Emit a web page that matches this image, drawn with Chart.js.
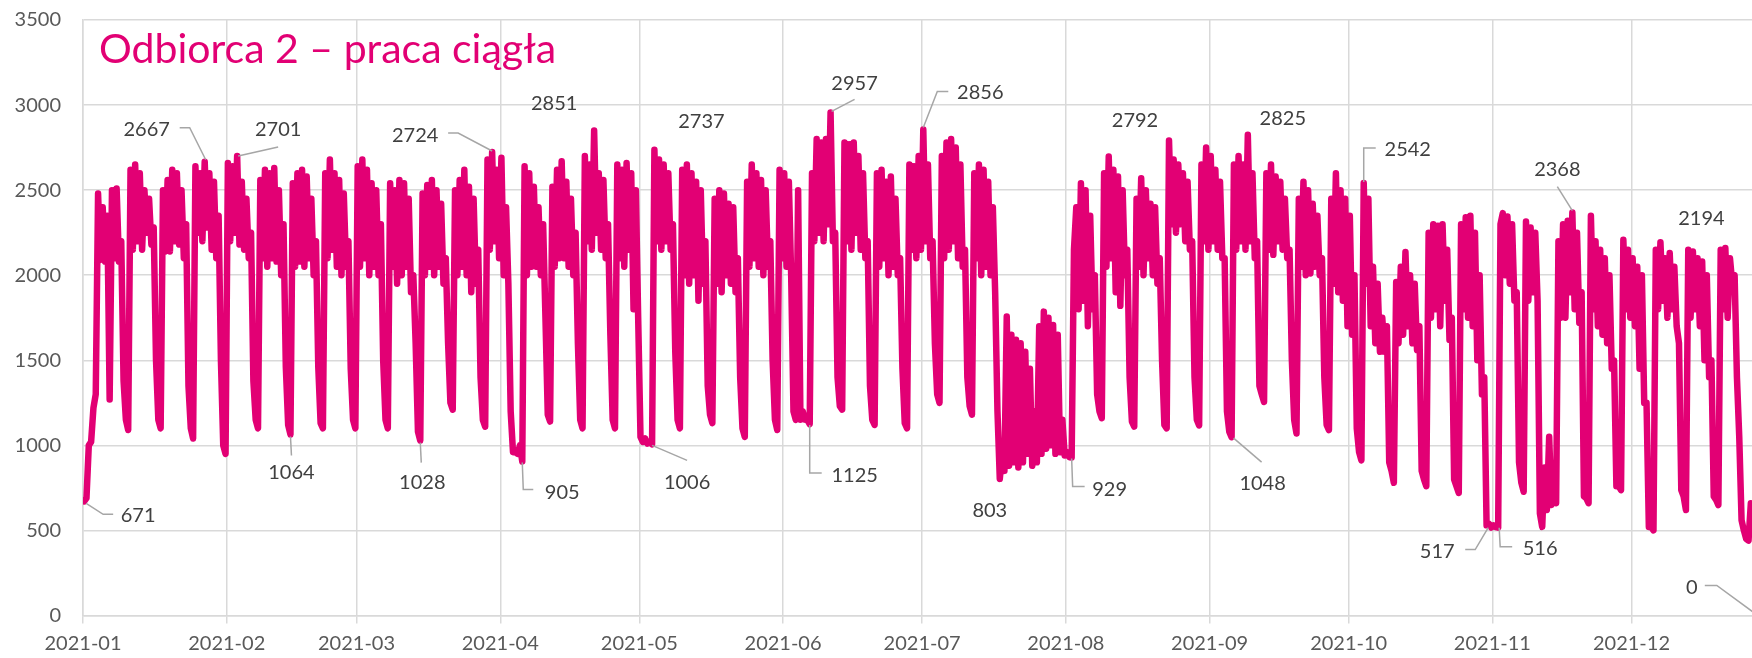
<!DOCTYPE html>
<html lang="pl">
<head>
<meta charset="UTF-8">
<title>Odbiorca 2 – praca ciągła</title>
<script src="https://cdn.jsdelivr.net/npm/chart.js"></script>
<style>
  html, body { margin: 0; padding: 0; background: #fff; }
  canvas { display: block; }
</style>
</head>
<body>
<canvas id="loadChart" width="1752" height="658"></canvas>
<script>
  const chartTitle = 'Odbiorca 2 – praca ciągła';

  // x axis: day of year 2021 (0 = 1 Jan), ticks on first day of each month
  const monthStartDays = [0, 31, 59, 90, 120, 151, 181, 212, 243, 273, 304, 334];
  const monthLabels = ['2021-01', '2021-02', '2021-03', '2021-04', '2021-05', '2021-06',
    '2021-07', '2021-08', '2021-09', '2021-10', '2021-11', '2021-12'];
  const valueTicks = [0, 500, 1000, 1500, 2000, 2500, 3000, 3500];

  // two readings per day (morning / evening), one row per week Mon..Sun
  const amWeeks = [
    [671, 1000, 1220],                               // 1-3 Jan
    [2480, 2400, 2350, 2500, 2510, 2200, 1150],
    [2620, 2650, 2600, 2500, 2450, 2280, 1150],
    [2500, 2560, 2620, 2600, 2500, 2300, 1100],
    [2640, 2600, 2667, 2600, 2550, 2350, 1000],
    [2660, 2640, 2701, 2550, 2450, 2250, 1150],      // Feb
    [2560, 2620, 2600, 2630, 2500, 2300, 1120],
    [2540, 2600, 2620, 2580, 2450, 2200, 1130],
    [2600, 2680, 2600, 2560, 2480, 2200, 1150],
    [2640, 2680, 2620, 2540, 2500, 2300, 1150],      // Mar
    [2540, 2500, 2560, 2540, 2450, 2000, 1080],
    [2480, 2530, 2560, 2500, 2420, 2100, 1250],
    [2500, 2560, 2620, 2520, 2450, 2150, 1150],
    [2680, 2724, 2620, 2690, 2400, 1200, 960],
    [1000, 2640, 2600, 2520, 2400, 2300, 1180],      // Apr
    [2520, 2620, 2670, 2550, 2450, 2250, 1150],
    [2700, 2650, 2851, 2600, 2560, 2300, 1150],
    [2650, 2620, 2660, 2600, 2500, 1050, 1040],
    [1020, 2737, 2680, 2650, 2600, 2300, 1150],      // May
    [2620, 2650, 2600, 2550, 2500, 2200, 1180],
    [2450, 2500, 2480, 2420, 2400, 2100, 1100],
    [2550, 2650, 2600, 2560, 2500, 2200, 1150],
    [2620, 2600, 2550, 1200, 2500, 1200, 1150],
    [2600, 2800, 2780, 2800, 2957, 2250, 1230],      // Jun
    [2780, 2770, 2780, 2700, 2600, 2200, 1150],
    [2600, 2620, 2550, 2580, 2450, 2100, 1130],
    [2650, 2640, 2700, 2856, 2650, 2200, 1300],
    [2700, 2780, 2800, 2750, 2650, 2150, 1230],      // Jul
    [2600, 2650, 2620, 2550, 2400, 1200, 950],
    [1757, 1650, 1620, 1600, 1550, 1450, 1200],
    [1700, 1786, 1750, 1708, 1650, 1150, 960],
    [929, 2400, 2540, 2500, 2350, 2000, 1200],       // Aug
    [2600, 2698, 2620, 2580, 2500, 2150, 1140],
    [2450, 2570, 2500, 2420, 2400, 2100, 1120],
    [2792, 2680, 2650, 2600, 2550, 2200, 1150],
    [2650, 2750, 2700, 2620, 2550, 2100, 1080],
    [2650, 2700, 2650, 2825, 2600, 2200, 1300],      // Sep
    [2600, 2650, 2580, 2550, 2450, 2150, 1150],
    [2450, 2550, 2500, 2420, 2350, 2100, 1120],
    [2450, 2600, 2500, 2450, 2350, 2000, 960],
    [2542, 2450, 2050, 1950, 1750, 1700, 850],       // Oct
    [1960, 2050, 2137, 2000, 1950, 1700, 800],
    [2250, 2300, 2290, 2300, 2150, 1750, 760],
    [2300, 2340, 2350, 2250, 2000, 1400, 540],
    [530, 516, 2365, 2345, 2300, 1900, 780],         // Nov
    [2316, 2280, 2250, 600, 870, 1050, 700],
    [2200, 2300, 2320, 2368, 2250, 1900, 690],
    [2350, 2200, 2150, 2100, 2000, 1500, 760],
    [2208, 2150, 2100, 2050, 2000, 1250, 520],
    [2150, 2194, 2100, 2130, 2050, 1600, 700],       // Dec
    [2149, 2140, 2100, 2080, 2000, 1500, 680],
    [2150, 2160, 2100, 2000, 1050, 500, 440],
    [650, 0, 0, 0, 0]
  ];
  const pmWeeks = [
    [690, 1020, 1300],
    [2090, 2080, 1270, 2100, 2080, 1380, 1090],
    [2150, 2200, 2150, 2250, 2180, 1500, 1100],
    [2140, 2140, 2200, 2180, 2100, 1350, 1040],
    [2250, 2200, 2280, 2150, 2100, 1500, 950],
    [2200, 2250, 2180, 2150, 2100, 1380, 1100],
    [2100, 2050, 2100, 2080, 2000, 1460, 1064],
    [2050, 2080, 2050, 2100, 2000, 1460, 1100],
    [2100, 2150, 2050, 2000, 2050, 1450, 1100],
    [2050, 2100, 2000, 2050, 2000, 1500, 1100],
    [2050, 1950, 2000, 2050, 1900, 1600, 1028],
    [2000, 2050, 2000, 2050, 1950, 1600, 1210],
    [2000, 2050, 2000, 1900, 1950, 1400, 1110],
    [2150, 2200, 2100, 2000, 1950, 960, 950],
    [905, 2000, 2050, 2050, 2000, 1750, 1140],
    [2050, 2100, 2100, 2050, 2000, 1600, 1100],
    [2200, 2150, 2250, 2150, 2100, 1650, 1100],
    [2100, 2050, 2150, 1800, 1750, 1020, 1010],
    [1006, 2200, 2150, 2200, 2150, 1550, 1100],
    [2000, 1950, 2000, 1850, 1950, 1350, 1130],
    [1950, 1900, 2000, 1950, 1900, 1400, 1050],
    [2050, 2100, 2050, 2000, 2050, 1500, 1090],
    [2100, 2050, 2000, 1150, 1150, 1150, 1125],
    [2200, 2250, 2200, 2300, 2200, 1400, 1210],
    [2200, 2150, 2250, 2150, 2100, 1350, 1120],
    [2050, 2100, 2000, 2050, 2000, 1450, 1100],
    [2150, 2100, 2150, 2200, 2100, 1600, 1250],
    [2100, 2150, 2200, 2100, 2050, 1400, 1180],
    [2100, 2000, 2050, 2000, 1900, 803, 850],
    [880, 900, 870, 900, 950, 880, 900],
    [950, 980, 1000, 950, 960, 940, 930],
    [2150, 1800, 1850, 1700, 1800, 1300, 1160],
    [2050, 2100, 1900, 1820, 2000, 1400, 1110],
    [2050, 2000, 2100, 2000, 1950, 1500, 1100],
    [2300, 2250, 2300, 2200, 2150, 1400, 1117],
    [2200, 2150, 2200, 2150, 2100, 1200, 1048],
    [2150, 2200, 2150, 2200, 2100, 1350, 1255],
    [2150, 2120, 2200, 2150, 2100, 1500, 1070],
    [2050, 2000, 2010, 2050, 2000, 1400, 1090],
    [1950, 1900, 1850, 1700, 1650, 1100, 912],
    [1950, 1700, 1600, 1550, 1550, 900, 780],
    [1600, 1650, 1700, 1600, 1560, 850, 760],
    [1750, 1800, 1700, 1850, 1620, 800, 720],
    [1800, 1750, 1700, 1500, 1300, 530, 517],
    [520, 2300, 2000, 1950, 1850, 900, 727],
    [1850, 1900, 1850, 521, 620, 650, 660],
    [1750, 1750, 1900, 1800, 1720, 700, 660],
    [1800, 1700, 1650, 1600, 1450, 760, 737],
    [1800, 1750, 1700, 1450, 1250, 520, 500],
    [1800, 1850, 1750, 1800, 1700, 737, 620],
    [1750, 1800, 1700, 1500, 1400, 700, 649],
    [1800, 1750, 1950, 1400, 560, 450, 660],
    [600, 0, 0, 0, 0]
  ];

  // labelled readings: day of year and which reading of the day
  const calloutDays = [0, 26, 33, 44, 72, 88, 94, 110, 123, 122, 161, 156,
    181, 197, 213, 234, 251, 247, 276, 321, 340, 303, 305, 361];
  const calloutSlots = ['am', 'am', 'am', 'pm', 'pm', 'am', 'pm', 'am', 'am', 'pm', 'am', 'pm',
    'am', 'pm', 'am', 'am', 'am', 'pm', 'am', 'am', 'am', 'pm', 'am', 'am'];

  const loadAM = amWeeks.flat();
  const loadPM = pmWeeks.flat();
  const slotOffset = { am: 0.25, pm: 0.75 };

  const points = [];
  loadAM.forEach((v, d) => {
    points.push({ x: d + slotOffset.am, y: v });
    points.push({ x: d + slotOffset.pm, y: loadPM[d] });
  });

  // label placement for each callout (px, relative to the data point)
  const calloutLayout = [
    { label: [54, 14], leader: [[2, 2], [19, 13], [29, 13]] },
    { label: [-58, -32], leader: [[1, -2], [-15, -34], [-25, -34]] },
    { label: [41, -26], leader: [[1, 0], [41, -9]] },
    { label: [1, 38], leader: [[0, 2], [1, 21]] },
    { label: [2, 42], leader: [[0, 2], [1, 22]] },
    { label: [-77, -16], leader: [[0, -1], [-34, -19], [-44, -19]] },
    { label: [40, 31], leader: [[0, 1], [1, 28], [11, 28]] },
    { label: [-40, -27] },
    { label: [47, -28] },
    { label: [35, 38], leader: [[0, 1], [35, 16]] },
    { label: [24, -29], leader: [[1, -1], [24, -13]] },
    { label: [45, 51], leader: [[0, 1], [0, 49], [12, 49]] },
    { label: [57, -37], leader: [[0, -2], [14, -38], [25, -38]] },
    { label: [-10, 32] },
    { label: [38, 32], leader: [[0, 1], [1, 29], [13, 29]] },
    { label: [-34, -20] },
    { label: [35, -16] },
    { label: [31, 46], leader: [[2, 1], [30, 25]] },
    { label: [44, -33], leader: [[0, -1], [0, -35], [12, -35]] },
    { label: [-15, -43], leader: [[0, -2], [-15, -26]] },
    { label: [41, -24] },
    { label: [-54, 24], leader: [[-3, 0], [-16, 22], [-26, 22]] },
    { label: [42, 21], leader: [[1, 0], [2, 19], [14, 19]] },
    { label: [-66, -28], leader: [[0, 0], [-41, -30], [-53, -30]] }
  ];

  const MAGENTA = '#E20074';
  const GRID = '#d9d9d9';

  const calloutPlugin = {
    id: 'callouts',
    afterDatasetsDraw(chart) {
      const { ctx, scales: { x, y } } = chart;
      ctx.save();
      ctx.font = '20px Lato';
      ctx.fillStyle = '#404040';
      ctx.textAlign = 'center';
      ctx.textBaseline = 'middle';
      ctx.strokeStyle = '#a6a6a6';
      ctx.lineWidth = 1.5;
      calloutDays.forEach((day, i) => {
        const slot = calloutSlots[i];
        const value = slot === 'am' ? loadAM[day] : loadPM[day];
        const px = x.getPixelForValue(day + slotOffset[slot]);
        const py = y.getPixelForValue(value);
        const lay = calloutLayout[i];
        if (lay.leader) {
          ctx.beginPath();
          lay.leader.forEach(([dx, dy], k) => {
            if (k === 0) ctx.moveTo(px + dx, py + dy);
            else ctx.lineTo(px + dx, py + dy);
          });
          ctx.stroke();
        }
        ctx.fillText(String(value), px + lay.label[0], py + lay.label[1]);
      });
      ctx.restore();
    }
  };

  const titlePlugin = {
    id: 'innerTitle',
    afterDraw(chart) {
      const { ctx, chartArea } = chart;
      ctx.save();
      ctx.font = '400 41px Lato';
      ctx.fillStyle = MAGENTA;
      ctx.textBaseline = 'alphabetic';
      ctx.fillText(chartTitle, chartArea.left + 16, 63);
      ctx.restore();
    }
  };

  new Chart(document.getElementById('loadChart'), {
    type: 'line',
    data: {
      datasets: [{
        data: points,
        borderColor: MAGENTA,
        borderWidth: 6.5,
        borderJoinStyle: 'round',
        borderCapStyle: 'round',
        pointRadius: 0,
        tension: 0,
        fill: false
      }]
    },
    options: {
      responsive: false,
      animation: false,
      parsing: false,
      normalized: true,
      layout: { padding: { top: 20, right: 0, left: 0, bottom: 0 } },
      plugins: {
        legend: { display: false },
        tooltip: { enabled: false }
      },
      scales: {
        x: {
          type: 'linear',
          min: 0,
          max: 360,
          afterBuildTicks: scale => { scale.ticks = monthStartDays.map(v => ({ value: v })); },
          afterFit: scale => {
            scale.height = 42.5;
            scale.paddingLeft = 0;
            scale.paddingRight = 0;
          },
          grid: { color: GRID, lineWidth: 1.5, tickLength: 8 },
          border: { color: GRID, width: 1.5 },
          ticks: {
            autoSkip: false,
            maxRotation: 0,
            padding: 8,
            color: '#595959',
            font: { family: 'Lato', size: 20 },
            callback: (v) => monthLabels[monthStartDays.indexOf(v)] ?? ''
          }
        },
        y: {
          min: 0,
          max: 3500,
          afterBuildTicks: scale => { scale.ticks = valueTicks.map(v => ({ value: v })); },
          afterFit: scale => {
            scale.width = 83;
            scale.paddingTop = 0;
            scale.paddingBottom = 0;
          },
          grid: { color: GRID, lineWidth: 1.5, drawTicks: false },
          border: { color: GRID, width: 1.5 },
          ticks: {
            padding: 22,
            color: '#595959',
            font: { family: 'Lato', size: 20 },
            callback: (v) => String(v)
          }
        }
      }
    },
    plugins: [calloutPlugin, titlePlugin]
  });
</script>
</body>
</html>
